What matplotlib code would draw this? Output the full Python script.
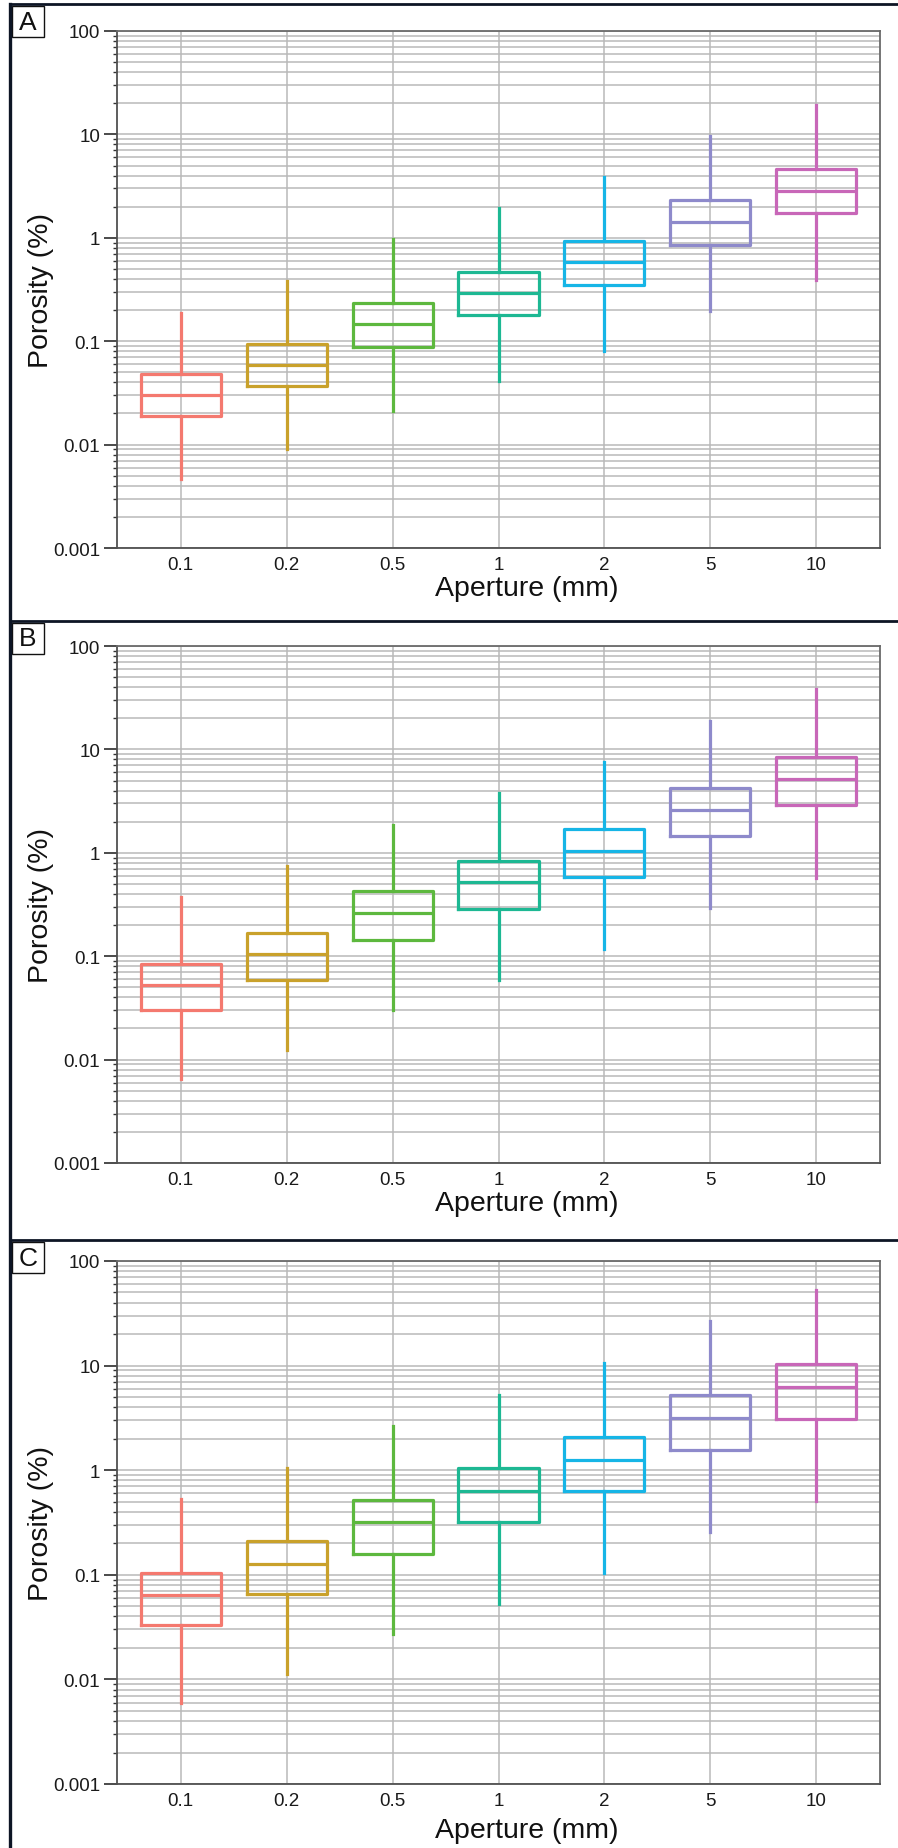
import numpy as np
import matplotlib.pyplot as plt
from matplotlib.ticker import FixedLocator, FixedFormatter, NullFormatter
from matplotlib.patches import Rectangle
from matplotlib.lines import Line2D

plt.rcParams['font.family'] = ['Liberation Sans', 'DejaVu Sans']

# categories and styling per aperture
apertures = ['0.1', '0.2', '0.5', '1', '2', '5', '10']
box_colors = ['#F4796F', '#C9A12B', '#5DB83E', '#1DB893', '#16B5E6', '#8E8ACB', '#C867B8']

ytick_values = [0.001, 0.01, 0.1, 1, 10, 100]
ytick_labels = ['0.001', '0.01', '0.1', '1', '10', '100']

# panel A
a_whislo = [0.0047, 0.0091, 0.0212, 0.041, 0.081, 0.198, 0.392]
a_q1 = [0.019, 0.0369, 0.0885, 0.178, 0.353, 0.861, 1.72]
a_med = [0.0301, 0.059, 0.146, 0.291, 0.58, 1.43, 2.83]
a_q3 = [0.048, 0.0949, 0.236, 0.467, 0.94, 2.32, 4.63]
a_whishi = [0.186, 0.385, 0.98, 1.95, 3.88, 9.75, 19.3]

# panel B
b_whislo = [0.0065, 0.0125, 0.0302, 0.0593, 0.117, 0.291, 0.572]
b_q1 = [0.0302, 0.0593, 0.145, 0.288, 0.577, 1.44, 2.90]
b_med = [0.0525, 0.104, 0.262, 0.524, 1.04, 2.59, 5.19]
b_q3 = [0.0844, 0.169, 0.424, 0.842, 1.69, 4.24, 8.48]
b_whishi = [0.375, 0.745, 1.87, 3.78, 7.5, 18.7, 38.0]

# panel C
c_whislo = [0.00593, 0.0112, 0.0269, 0.0531, 0.104, 0.258, 0.513]
c_q1 = [0.0334, 0.0655, 0.159, 0.318, 0.628, 1.56, 3.10]
c_med = [0.0637, 0.127, 0.318, 0.633, 1.26, 3.13, 6.28]
c_q3 = [0.1047, 0.209, 0.522, 1.04, 2.09, 5.19, 10.4]
c_whishi = [0.532, 1.05, 2.67, 5.28, 10.5, 26.8, 53.3]

W, H = 898, 1849
fig = plt.figure(figsize=(W / 100, H / 100), dpi=100)
fig.patch.set_facecolor('white')

grid_col = '#b9b9b9'
frame_col = '#0d1525'


def draw_panel(letter, top, bottom, sep_y, xlab_off, whislo, q1, med, q3, whishi):
    left, right = 117, 880
    ax = fig.add_axes([left / W, 1 - bottom / H, (right - left) / W, (bottom - top) / H])
    pos = np.arange(len(apertures))
    stats = []
    for i, name in enumerate(apertures):
        stats.append(dict(label=name, whislo=whislo[i], q1=q1[i], med=med[i],
                          q3=q3[i], whishi=whishi[i], fliers=[]))
    parts = ax.bxp(stats, positions=pos, widths=0.755, showcaps=False,
                   showfliers=False, patch_artist=False)
    for i, c in enumerate(box_colors):
        parts['boxes'][i].set(color=c, linewidth=2.3)
        parts['medians'][i].set(color=c, linewidth=2.3)
        for w in parts['whiskers'][2 * i:2 * i + 2]:
            w.set(color=c, linewidth=2.3)
    ax.set_yscale('log')
    ax.set_ylim(0.001, 100)
    ax.set_xlim(-0.6, len(apertures) - 0.4)
    ax.yaxis.set_major_locator(FixedLocator(ytick_values))
    ax.yaxis.set_major_formatter(FixedFormatter(ytick_labels))
    minors = [m * v for v in ytick_values[:-1] for m in range(2, 10)]
    ax.yaxis.set_minor_locator(FixedLocator(minors))
    ax.yaxis.set_minor_formatter(NullFormatter())
    ax.set_xticks(pos)
    ax.set_xticklabels(apertures)
    ax.grid(True, which='both', axis='y', color=grid_col, linewidth=1.1)
    ax.grid(True, which='major', axis='x', color=grid_col, linewidth=1.1)
    ax.set_axisbelow(True)
    ax.tick_params(axis='y', which='major', direction='out', length=9.5, width=1.1,
                   pad=2.5, labelsize=13.5, colors='#1a1a1a')
    ax.tick_params(axis='y', which='minor', direction='out', length=3, width=1.0,
                   colors='#333333')
    ax.tick_params(axis='x', which='both', length=0, pad=6, labelsize=13.5,
                   colors='#1a1a1a')
    for s in ['left', 'bottom']:
        ax.spines[s].set_color('#505050')
        ax.spines[s].set_linewidth(1.3)
    for s in ['top', 'right']:
        ax.spines[s].set_color('#6a6a6a')
        ax.spines[s].set_linewidth(1.3)

    fig.text(41 / W, 1 - (top + bottom) / 2 / H, 'Porosity (%)', rotation=90,
             ha='center', va='center', fontsize=20.5, color='#111111')
    fig.text(527 / W, 1 - (bottom + xlab_off) / H, 'Aperture (mm)', ha='center',
             va='center', fontsize=20.5, color='#111111')

    # panel separator line and letter box
    fig.add_artist(Line2D([10 / W, 1], [1 - sep_y / H] * 2, color=frame_col,
                          linewidth=2.0, transform=fig.transFigure))
    by = sep_y + 2
    fig.add_artist(Rectangle((12 / W, 1 - (by + 31) / H), 32 / W, 31 / H,
                             fill=False, edgecolor='#111111', linewidth=1.0,
                             transform=fig.transFigure))
    fig.text(28 / W, 1 - (by + 15.5) / H, letter, ha='center', va='center',
             fontsize=19, color='#111111')
    return ax


draw_panel('A', 32, 549, 5, 40, a_whislo, a_q1, a_med, a_q3, a_whishi)
draw_panel('B', 647, 1164, 622, 40, b_whislo, b_q1, b_med, b_q3, b_whishi)
draw_panel('C', 1262, 1785, 1241, 46, c_whislo, c_q1, c_med, c_q3, c_whishi)

# left frame line
fig.add_artist(Line2D([10 / W] * 2, [0, 1 - 5 / H], color=frame_col, linewidth=2.4,
                      transform=fig.transFigure))

fig.savefig('out.png', dpi=100)
